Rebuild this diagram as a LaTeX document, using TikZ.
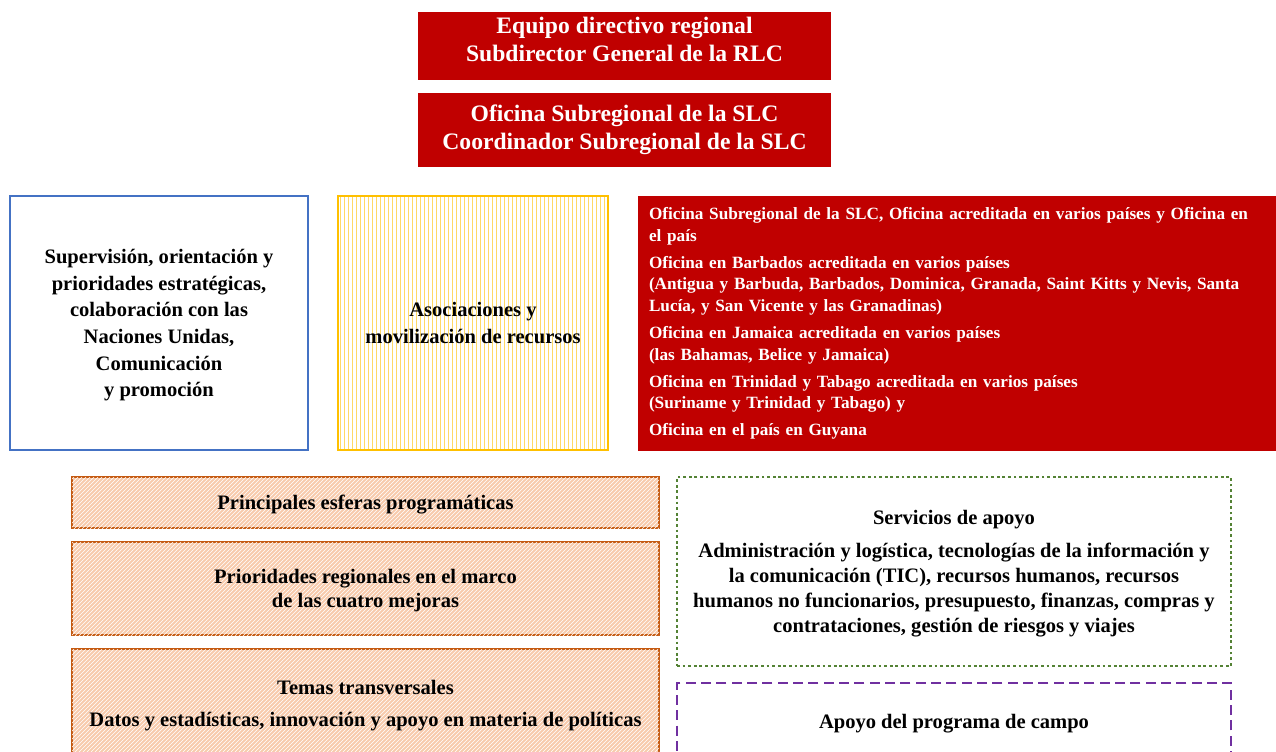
\documentclass[tikz,border=0pt]{standalone}
\usepackage{fontspec}
\setmainfont{Liberation Serif}
\usetikzlibrary{patterns}

\definecolor{rougeDir}{HTML}{C00000}
\definecolor{bleuSup}{HTML}{4472C4}
\definecolor{jauneAsso}{HTML}{FFC000}
\definecolor{jauneRaie}{HTML}{FFD966}
\definecolor{orangeProg}{HTML}{C55A11}
\definecolor{orangeFond}{HTML}{F8CBAD}
\definecolor{vertServ}{HTML}{548235}
\definecolor{violetCamp}{HTML}{7030A0}

\begin{document}
\begin{tikzpicture}[x=0.75pt, y=-0.75pt,
    boite/.style={rectangle, inner sep=0pt, align=center, font=\bfseries},
    direction/.style={boite, fill=rougeDir, text=white, minimum width=309.75pt},
    titre/.style={align=center, text=white, font=\bfseries\fontsize{17.7}{21}\selectfont},
    programme/.style={boite, draw=orangeProg, line width=1.8pt, fill=orangeFond,
        postaction={pattern=north east lines, pattern color=white}, text depth=0pt,
        minimum width=440.25pt, font=\bfseries\fontsize{15.4}{18}\selectfont},
    soutien/.style={boite, line width=2.1pt, minimum width=415.5pt, text depth=0pt,
        font=\bfseries\fontsize{15.4}{18.75}\selectfont}]

    % Cadre de la page
    \clip (0, 0) rectangle (1276, 751);

    % Equipe de direction
    \node[direction, minimum height=51pt] (equipo) at (624.5, 46) {};
    \node[titre] (equipoTxt) at ([yshift=5.25pt]equipo.center)
        {Equipo directivo regional\\Subdirector General de la RLC};
    \node[direction, minimum height=55.5pt] (oficina) at (624.5, 130) {};
    \node[titre] (oficinaTxt) at (oficina.center)
        {Oficina Subregional de la SLC\\Coordinador Subregional de la SLC};

    % Supervision (cadre bleu)
    \node[boite, draw=bleuSup, line width=1.6pt, minimum width=223.5pt, minimum height=190.5pt,
        text depth=0pt, font=\bfseries\fontsize{15.4}{20}\selectfont] (supervision) at (159, 323)
        {Supervisión, orientación y\\prioridades estratégicas,\\colaboración con las\\Naciones Unidas,\\Comunicación\\y promoción};

    % Asociaciones (cadre jaune raye)
    \node[boite, draw=jauneAsso, line width=1.8pt, pattern=vertical lines, pattern color=jauneRaie,
        minimum width=202.5pt, minimum height=190.5pt,
        font=\bfseries\fontsize{15.4}{20}\selectfont] (asociaciones) at (473, 323)
        {Asociaciones y\\movilización de recursos};

    % Oficinas de la subregion
    \node[boite, fill=rougeDir, text=white, minimum width=478.5pt, minimum height=191.25pt,
        text width=462pt, align=left, font=\bfseries\fontsize{12.9}{16.2}\selectfont] (oficinas) at (957, 323.5)
        {Oficina Subregional de la SLC, Oficina acreditada en varios países y Oficina en\\el país\\[4pt]
         Oficina en Barbados acreditada en varios países\\(Antigua y Barbuda, Barbados, Dominica, Granada, Saint Kitts y Nevis, Santa\\Lucía, y San Vicente y las Granadinas)\\[4pt]
         Oficina en Jamaica acreditada en varios países\\(las Bahamas, Belice y Jamaica)\\[4pt]
         Oficina en Trinidad y Tabago acreditada en varios países\\(Suriname y Trinidad y Tabago) y\\[4pt]
         Oficina en el país en Guyana};

    % Esferas programaticas (cadres orange hachures)
    \node[programme, minimum height=38.25pt] (esferas) at (365.5, 502.5)
        {Principales esferas programáticas};
    \node[programme, minimum height=69.75pt] (prioridades) at (365.5, 588.5)
        {Prioridades regionales en el marco\\de las cuatro mejoras};
    \node[programme, minimum height=81.75pt] (temas) at (365.5, 703.5)
        {Temas transversales\\[6pt]Datos y estadísticas, innovación y apoyo en materia de políticas};

    % Servicios de apoyo (pointilles verts)
    \node[soutien, draw=vertServ, dash pattern=on 2.1pt off 2.1pt, minimum height=141.75pt] (servicios) at (954, 571.5)
        {Servicios de apoyo\\[6pt]Administración y logística, tecnologías de la información y\\la comunicación (TIC), recursos humanos, recursos\\humanos no funcionarios, presupuesto, finanzas, compras y\\contrataciones, gestión de riesgos y viajes};

    % Apoyo del programa de campo (tirets violets)
    \node[soutien, draw=violetCamp, dash pattern=on 7.5pt off 4pt, minimum height=57pt] (campo) at (954, 721)
        {Apoyo del programa de campo};

\end{tikzpicture}
\end{document}
